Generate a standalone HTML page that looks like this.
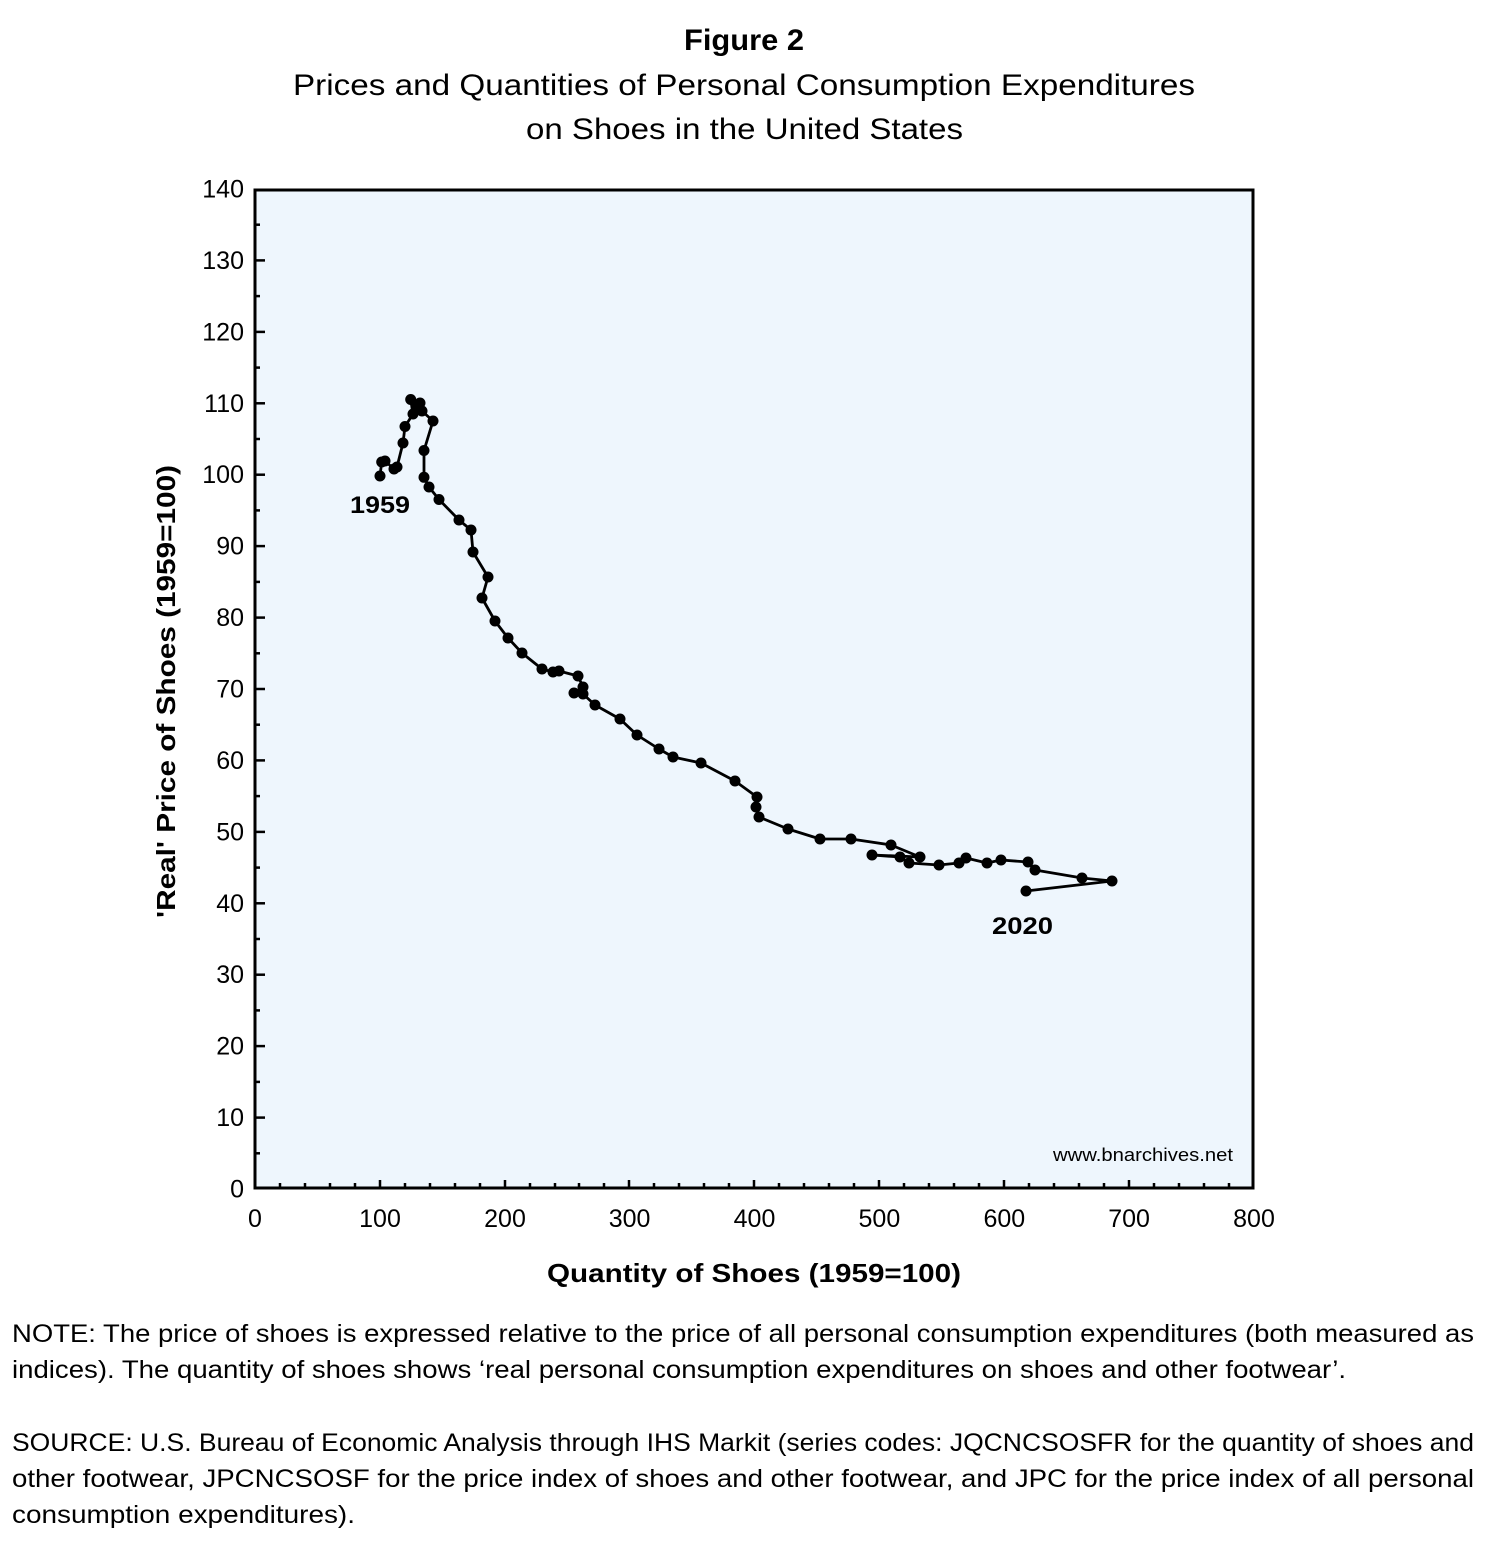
<!DOCTYPE html>
<html>
<head>
<meta charset="utf-8">
<style>
  html,body{margin:0;padding:0;background:#fff;}
  svg{display:block;}
  text{font-family:"Liberation Sans","DejaVu Sans",sans-serif;fill:#000;}
</style>
</head>
<body>
<svg width="1506" height="1545" viewBox="0 0 1506 1545" xmlns="http://www.w3.org/2000/svg">
  <!-- Title -->
  <text x="684" y="50" font-size="30" font-weight="bold" textLength="120" lengthAdjust="spacingAndGlyphs">Figure 2</text>
  <text x="293" y="95" font-size="30" textLength="902" lengthAdjust="spacingAndGlyphs">Prices and Quantities of Personal Consumption Expenditures</text>
  <text x="526" y="139" font-size="30" textLength="437" lengthAdjust="spacingAndGlyphs">on Shoes in the United States</text>

  <!-- Plot background -->
  <rect x="255" y="190" width="998" height="998" fill="#EEF6FD"/>

  <g stroke="#000" stroke-width="2.5">
    <line x1="255" y1="1153.3" x2="260" y2="1153.3"/>
    <line x1="255" y1="1117.6" x2="265" y2="1117.6"/>
    <line x1="255" y1="1081.9" x2="260" y2="1081.9"/>
    <line x1="255" y1="1046.1" x2="265" y2="1046.1"/>
    <line x1="255" y1="1010.4" x2="260" y2="1010.4"/>
    <line x1="255" y1="974.7" x2="265" y2="974.7"/>
    <line x1="255" y1="939" x2="260" y2="939"/>
    <line x1="255" y1="903.3" x2="265" y2="903.3"/>
    <line x1="255" y1="867.6" x2="260" y2="867.6"/>
    <line x1="255" y1="831.9" x2="265" y2="831.9"/>
    <line x1="255" y1="796.1" x2="260" y2="796.1"/>
    <line x1="255" y1="760.4" x2="265" y2="760.4"/>
    <line x1="255" y1="724.7" x2="260" y2="724.7"/>
    <line x1="255" y1="689" x2="265" y2="689"/>
    <line x1="255" y1="653.3" x2="260" y2="653.3"/>
    <line x1="255" y1="617.6" x2="265" y2="617.6"/>
    <line x1="255" y1="581.9" x2="260" y2="581.9"/>
    <line x1="255" y1="546.1" x2="265" y2="546.1"/>
    <line x1="255" y1="510.4" x2="260" y2="510.4"/>
    <line x1="255" y1="474.7" x2="265" y2="474.7"/>
    <line x1="255" y1="439" x2="260" y2="439"/>
    <line x1="255" y1="403.3" x2="265" y2="403.3"/>
    <line x1="255" y1="367.6" x2="260" y2="367.6"/>
    <line x1="255" y1="331.9" x2="265" y2="331.9"/>
    <line x1="255" y1="296.1" x2="260" y2="296.1"/>
    <line x1="255" y1="260.4" x2="265" y2="260.4"/>
    <line x1="255" y1="224.7" x2="260" y2="224.7"/>
    <line x1="280" y1="1189" x2="280" y2="1183"/>
    <line x1="305" y1="1189" x2="305" y2="1183"/>
    <line x1="330" y1="1189" x2="330" y2="1183"/>
    <line x1="355" y1="1189" x2="355" y2="1183"/>
    <line x1="380" y1="1189" x2="380" y2="1180"/>
    <line x1="405" y1="1189" x2="405" y2="1183"/>
    <line x1="430" y1="1189" x2="430" y2="1183"/>
    <line x1="455" y1="1189" x2="455" y2="1183"/>
    <line x1="480" y1="1189" x2="480" y2="1183"/>
    <line x1="505" y1="1189" x2="505" y2="1180"/>
    <line x1="530" y1="1189" x2="530" y2="1183"/>
    <line x1="555" y1="1189" x2="555" y2="1183"/>
    <line x1="579" y1="1189" x2="579" y2="1183"/>
    <line x1="604" y1="1189" x2="604" y2="1183"/>
    <line x1="629" y1="1189" x2="629" y2="1180"/>
    <line x1="654" y1="1189" x2="654" y2="1183"/>
    <line x1="679" y1="1189" x2="679" y2="1183"/>
    <line x1="704" y1="1189" x2="704" y2="1183"/>
    <line x1="729" y1="1189" x2="729" y2="1183"/>
    <line x1="754" y1="1189" x2="754" y2="1180"/>
    <line x1="779" y1="1189" x2="779" y2="1183"/>
    <line x1="804" y1="1189" x2="804" y2="1183"/>
    <line x1="829" y1="1189" x2="829" y2="1183"/>
    <line x1="854" y1="1189" x2="854" y2="1183"/>
    <line x1="879" y1="1189" x2="879" y2="1180"/>
    <line x1="904" y1="1189" x2="904" y2="1183"/>
    <line x1="929" y1="1189" x2="929" y2="1183"/>
    <line x1="954" y1="1189" x2="954" y2="1183"/>
    <line x1="979" y1="1189" x2="979" y2="1183"/>
    <line x1="1004" y1="1189" x2="1004" y2="1180"/>
    <line x1="1029" y1="1189" x2="1029" y2="1183"/>
    <line x1="1054" y1="1189" x2="1054" y2="1183"/>
    <line x1="1079" y1="1189" x2="1079" y2="1183"/>
    <line x1="1104" y1="1189" x2="1104" y2="1183"/>
    <line x1="1129" y1="1189" x2="1129" y2="1180"/>
    <line x1="1154" y1="1189" x2="1154" y2="1183"/>
    <line x1="1179" y1="1189" x2="1179" y2="1183"/>
    <line x1="1204" y1="1189" x2="1204" y2="1183"/>
    <line x1="1229" y1="1189" x2="1229" y2="1183"/>
  </g>

  <!-- Frame -->
  <rect x="255" y="190" width="998" height="998" fill="none" stroke="#000" stroke-width="3"/>

  <g font-size="25" text-anchor="end">
    <text x="244" y="1197.5">0</text>
    <text x="244" y="1126">10</text>
    <text x="244" y="1054.6">20</text>
    <text x="244" y="983.2">30</text>
    <text x="244" y="911.8">40</text>
    <text x="244" y="840.4">50</text>
    <text x="244" y="768.9">60</text>
    <text x="244" y="697.5">70</text>
    <text x="244" y="626.1">80</text>
    <text x="244" y="554.6">90</text>
    <text x="244" y="483.2">100</text>
    <text x="244" y="411.8">110</text>
    <text x="244" y="340.4">120</text>
    <text x="244" y="268.9">130</text>
    <text x="244" y="197.5">140</text>
  </g>
  <g font-size="25" text-anchor="middle">
    <text x="255" y="1227">0</text>
    <text x="380" y="1227">100</text>
    <text x="505" y="1227">200</text>
    <text x="629.6" y="1227">300</text>
    <text x="754.5" y="1227">400</text>
    <text x="879.4" y="1227">500</text>
    <text x="1004.3" y="1227">600</text>
    <text x="1129.1" y="1227">700</text>
    <text x="1254" y="1227">800</text>
  </g>

  <g>
    <polyline fill="none" stroke="#000" stroke-width="2.8" stroke-linejoin="round"
      points="380,476 381.7,462 385,461 394,469 397,467 403,443 405,426.5 413,414 410.7,399.5 416,406 420,403 422,411 433,421 424,450.5 424,477.3 429,487 439,499.5 459,520 471,530 473,552 488,577 482,598 495,621 508,638 522,653 542,669 553,672 559,671 578,676 583,687 574,693 583,694 595,705 620,719 637,735 659,749 673,757 701,763 735,781 757,797 756,807 759,817 788,829 820,839 851,839 891,845 920,857 872,855 900,857 909,863 939,865 959,863 966,858 987,863 1001,860 1028,862 1035,870 1082,878 1112,881 1026,891"/>
    <g fill="#000">
      <circle cx="380" cy="476" r="5.5"/>
      <circle cx="381.7" cy="462" r="5.5"/>
      <circle cx="385" cy="461" r="5.5"/>
      <circle cx="394" cy="469" r="5.5"/>
      <circle cx="397" cy="467" r="5.5"/>
      <circle cx="403" cy="443" r="5.5"/>
      <circle cx="405" cy="426.5" r="5.5"/>
      <circle cx="413" cy="414" r="5.5"/>
      <circle cx="410.7" cy="399.5" r="5.5"/>
      <circle cx="416" cy="406" r="5.5"/>
      <circle cx="420" cy="403" r="5.5"/>
      <circle cx="422" cy="411" r="5.5"/>
      <circle cx="433" cy="421" r="5.5"/>
      <circle cx="424" cy="450.5" r="5.5"/>
      <circle cx="424" cy="477.3" r="5.5"/>
      <circle cx="429" cy="487" r="5.5"/>
      <circle cx="439" cy="499.5" r="5.5"/>
      <circle cx="459" cy="520" r="5.5"/>
      <circle cx="471" cy="530" r="5.5"/>
      <circle cx="473" cy="552" r="5.5"/>
      <circle cx="488" cy="577" r="5.5"/>
      <circle cx="482" cy="598" r="5.5"/>
      <circle cx="495" cy="621" r="5.5"/>
      <circle cx="508" cy="638" r="5.5"/>
      <circle cx="522" cy="653" r="5.5"/>
      <circle cx="542" cy="669" r="5.5"/>
      <circle cx="553" cy="672" r="5.5"/>
      <circle cx="559" cy="671" r="5.5"/>
      <circle cx="578" cy="676" r="5.5"/>
      <circle cx="583" cy="687" r="5.5"/>
      <circle cx="574" cy="693" r="5.5"/>
      <circle cx="583" cy="694" r="5.5"/>
      <circle cx="595" cy="705" r="5.5"/>
      <circle cx="620" cy="719" r="5.5"/>
      <circle cx="637" cy="735" r="5.5"/>
      <circle cx="659" cy="749" r="5.5"/>
      <circle cx="673" cy="757" r="5.5"/>
      <circle cx="701" cy="763" r="5.5"/>
      <circle cx="735" cy="781" r="5.5"/>
      <circle cx="757" cy="797" r="5.5"/>
      <circle cx="756" cy="807" r="5.5"/>
      <circle cx="759" cy="817" r="5.5"/>
      <circle cx="788" cy="829" r="5.5"/>
      <circle cx="820" cy="839" r="5.5"/>
      <circle cx="851" cy="839" r="5.5"/>
      <circle cx="891" cy="845" r="5.5"/>
      <circle cx="920" cy="857" r="5.5"/>
      <circle cx="872" cy="855" r="5.5"/>
      <circle cx="900" cy="857" r="5.5"/>
      <circle cx="909" cy="863" r="5.5"/>
      <circle cx="939" cy="865" r="5.5"/>
      <circle cx="959" cy="863" r="5.5"/>
      <circle cx="966" cy="858" r="5.5"/>
      <circle cx="987" cy="863" r="5.5"/>
      <circle cx="1001" cy="860" r="5.5"/>
      <circle cx="1028" cy="862" r="5.5"/>
      <circle cx="1035" cy="870" r="5.5"/>
      <circle cx="1082" cy="878" r="5.5"/>
      <circle cx="1112" cy="881" r="5.5"/>
      <circle cx="1026" cy="891" r="5.5"/>
    </g>
  </g>

  <!-- Year labels -->
  <text x="350" y="513" font-size="24" font-weight="bold" textLength="60" lengthAdjust="spacingAndGlyphs">1959</text>
  <text x="992" y="934" font-size="24" font-weight="bold" textLength="61" lengthAdjust="spacingAndGlyphs">2020</text>

  <!-- Watermark -->
  <text x="1053" y="1161" font-size="18" textLength="180" lengthAdjust="spacingAndGlyphs">www.bnarchives.net</text>

  <!-- Axis titles -->
  <text x="547" y="1282" font-size="26" font-weight="bold" textLength="414" lengthAdjust="spacingAndGlyphs">Quantity of Shoes (1959=100)</text>
  <text transform="translate(175,691.5) rotate(-90)" font-size="26" font-weight="bold" text-anchor="middle" textLength="453" lengthAdjust="spacingAndGlyphs">'Real' Price of Shoes (1959=100)</text>

  <!-- Notes -->
  <text x="12" y="1342" font-size="25" textLength="1462" lengthAdjust="spacingAndGlyphs">NOTE: The price of shoes is expressed relative to the price of all personal consumption expenditures (both measured as</text>
  <text x="12" y="1378" font-size="25" textLength="1334" lengthAdjust="spacingAndGlyphs">indices). The quantity of shoes shows ‘real personal consumption expenditures on shoes and other footwear’.</text>
  <text x="12" y="1451" font-size="25" textLength="1462" lengthAdjust="spacingAndGlyphs">SOURCE: U.S. Bureau of Economic Analysis through IHS Markit (series codes: JQCNCSOSFR for the quantity of shoes and</text>
  <text x="12" y="1487" font-size="25" textLength="1462" lengthAdjust="spacingAndGlyphs">other footwear, JPCNCSOSF for the price index of shoes and other footwear, and JPC for the price index of all personal</text>
  <text x="12" y="1523" font-size="25" textLength="343" lengthAdjust="spacingAndGlyphs">consumption expenditures).</text>
</svg>
</body>
</html>
